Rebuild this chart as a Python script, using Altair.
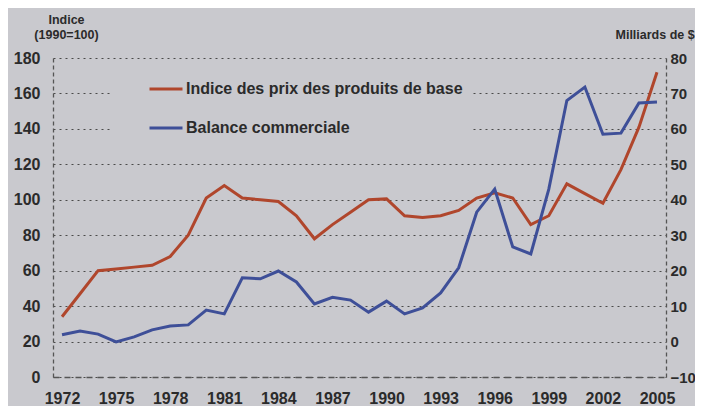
import altair as alt
import pandas as pd

years = list(range(1972, 2006))
index_values = [34, 47, 60, 61, 62, 63, 68, 80, 101, 108, 101, 100, 99, 91, 78, 86, 93,
                100, 100.5, 91, 90, 91, 94, 101, 104, 101, 86, 91, 109, 103.5, 98, 117, 141, 172]
balance_values = [1.9, 3, 2.1, -0.1, 1.3, 3.3, 4.4, 4.7, 8.9, 7.8, 18, 17.7, 19.9, 16.8, 10.6,
                  12.5, 11.7, 8.3, 11.4, 7.8, 9.5, 13.7, 20.8, 36.5, 43, 26.7, 24.7, 43, 68,
                  71.8, 58.5, 58.8, 67.3, 67.6]
year_ticks = [1972, 1975, 1978, 1981, 1984, 1987, 1990, 1993, 1996, 1999, 2002, 2005]
left_ticks = [0, 20, 40, 60, 80, 100, 120, 140, 160, 180]
right_ticks = [-10, 0, 10, 20, 30, 40, 50, 60, 70, 80]
series_names = ["Indice des prix des produits de base", "Balance commerciale"]
series_colors = ["#b0462c", "#3e4f98"]

BG = "#c9c9ce"
TXT = "#2b2b2b"
FONT = "Liberation Sans"

df_idx = pd.DataFrame({"year": years, "value": index_values, "series": series_names[0]})
df_bal = pd.DataFrame({"year": years, "value": balance_values, "series": series_names[1]})

x_enc = alt.X(
    "year:O",
    scale=alt.Scale(paddingOuter=0.5),
    axis=alt.Axis(
        values=year_ticks, labelAngle=0, title=None, ticks=False, grid=False,
        domainDash=[6, 5], domainColor="#555", domainWidth=1.3, labelPadding=13,
    ),
)

color_enc = alt.Color(
    "series:N",
    scale=alt.Scale(domain=series_names, range=series_colors),
    legend=alt.Legend(
        title=None, orient="none", legendX=57, legendY=3,
        symbolType="stroke", symbolSize=1089, symbolStrokeWidth=3, symbolOffset=28,
        labelFontSize=16, labelFont=FONT, labelFontWeight="bold", labelColor=TXT,
        labelOffset=2, fillColor=BG, padding=10, rowPadding=13, labelLimit=400,
    ),
)

line_idx = alt.Chart(df_idx).mark_line(strokeWidth=3).encode(
    x=x_enc,
    y=alt.Y(
        "value:Q",
        scale=alt.Scale(domain=[0, 180], nice=False, zero=False),
        axis=alt.Axis(
            values=left_ticks, orient="left", ticks=False, grid=True,
            gridDash=[2, 4], gridColor="#4a4a4a", gridWidth=1,
            domainDash=[4, 3], domainColor="#555", domainWidth=1.3, labelPadding=13,
            title=["Indice", "(1990=100)"], titleAngle=0, titleAlign="center",
            titleBaseline="alphabetic", titleX=13, titleY=-35, titleLineHeight=15,
            titleFontSize=12.5, titleFont=FONT, titleFontWeight="bold", titleColor=TXT,
        ),
    ),
    color=color_enc,
)

line_bal = alt.Chart(df_bal).mark_line(strokeWidth=3).encode(
    x=x_enc,
    y=alt.Y(
        "value:Q",
        scale=alt.Scale(domain=[-10, 80], nice=False, zero=False),
        axis=alt.Axis(
            values=right_ticks, orient="right", ticks=False, grid=False,
            domainDash=[4, 3], domainColor="#555", domainWidth=1.3, labelPadding=4,
            labelFontSize=15,
            title="Milliards de $", titleAngle=0, titleAlign="left",
            titleBaseline="alphabetic", titleX=-51, titleY=-20,
            titleFontSize=12.5, titleFont=FONT, titleFontWeight="bold", titleColor=TXT,
        ),
    ),
    color=color_enc,
)

chart = (
    alt.layer(line_idx, line_bal)
    .resolve_scale(y="independent")
    .properties(
        width=613, height=319,
        autosize=alt.AutoSizeParams(type="none"),
        padding={"left": 45, "top": 50, "right": 29, "bottom": 30},
        background=BG,
    )
    .configure_view(stroke=None)
    .configure_axis(
        labelFont=FONT, labelFontSize=16, labelFontWeight="bold", labelColor=TXT,
    )
)

chart.save("out.html", embed_options={"renderer": "svg", "actions": False})
